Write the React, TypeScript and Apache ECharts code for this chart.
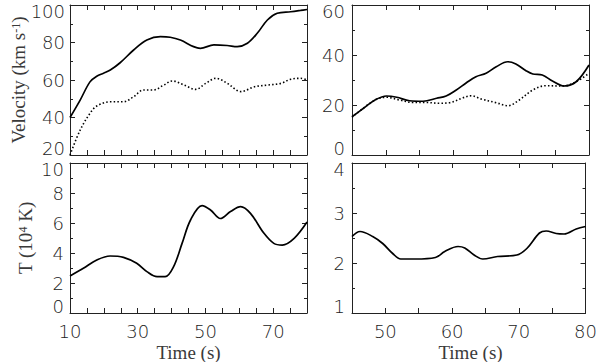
import React, { useEffect, useRef } from "react";
import * as echarts from "echarts";

// ---- data ----
const tlSolidTime = [10, 13, 15.9, 17.9, 19.9, 21.9, 24.8, 28.8, 32.7, 36.7, 39.6, 42.6, 46.5, 48.5, 52.5, 56.4, 59.4, 62.4, 65.3, 68.3, 71.2, 75.2, 78.1, 80];
const tlSolidVel = [40, 49.3, 59, 62, 63.6, 65.3, 69.2, 76, 81.3, 83.1, 82.8, 81.3, 77.8, 76.9, 78.7, 78.4, 77.8, 79.6, 84.9, 92, 95.6, 96.4, 97.1, 97.6];
const tlDotTime = [10, 13, 15.9, 17.9, 21.9, 25.8, 28.8, 31.7, 34.7, 37.7, 40.2, 43.7, 47.1, 50.1, 53.1, 56.5, 60.5, 64.5, 68.4, 72.3, 75.2, 78.1, 80];
const tlDotVel = [20, 33.3, 42.2, 46.1, 48.4, 48.4, 51.1, 54.7, 54.7, 57.3, 59.5, 57.3, 55, 58.2, 60.9, 58.2, 53.8, 56.4, 57.3, 58.2, 60.4, 60.9, 60];

const trSolidTime = [45, 46.7, 48.4, 50.1, 51.6, 53.5, 55.5, 57.5, 58.9, 60.4, 61.9, 63.3, 64.8, 66.3, 68, 69.2, 70.7, 71.7, 73.1, 74.6, 76.3, 78.1, 80];
const trSolidVel = [15.3, 18.7, 22, 23.6, 23.1, 21.7, 21.5, 22.7, 23.6, 26, 28.9, 31.3, 32.7, 35.3, 37.3, 36.4, 33.7, 32.4, 32, 29.6, 27.6, 29.3, 36];
const trDotTime = [45, 48.4, 50.1, 52, 54, 55.9, 57.9, 59.4, 61.4, 62.6, 64.1, 66.3, 68, 69.7, 71.7, 73.6, 76.1, 78.1, 80];
const trDotVel = [15.1, 22, 23.1, 22, 21, 21, 20.7, 20.9, 22.9, 23.7, 22.4, 20.9, 19.7, 22, 26, 27.7, 27.6, 29.3, 32.7];

const blTime = [10, 13.95, 17.9, 21.85, 25.8, 29.7, 32.7, 35.7, 38.1, 40.6, 43.1, 45.6, 49, 51.5, 54.4, 57.4, 60.4, 63.3, 67.3, 70.2, 72.7, 76.2, 80];
const blTemp = [2.47, 2.98, 3.53, 3.8, 3.71, 3.31, 2.76, 2.42, 2.42, 3.09, 4.64, 6.2, 7.16, 6.87, 6.3, 6.76, 7.09, 6.64, 5.31, 4.64, 4.53, 4.98, 6.07];

const brTime = [45, 46.2, 48.1, 49.6, 51.1, 52.3, 54.5, 57.5, 58.9, 60.9, 61.9, 63.3, 64.6, 66.8, 69.7, 71.2, 73.1, 74.1, 75.6, 76.8, 78.6, 80];
const brTemp = [2.53, 2.63, 2.53, 2.39, 2.19, 2.08, 2.08, 2.11, 2.23, 2.33, 2.3, 2.16, 2.08, 2.13, 2.16, 2.29, 2.6, 2.64, 2.59, 2.58, 2.68, 2.73];

const leftTimeLabels = [10, 30, 50, 70];
const rightTimeLabels = [50, 60, 70, 80];

const pairs = (t: number[], v: number[]) => t.map((x, i) => [x, v[i]]);

const AX = "#222";
const labelStyle = { fontFamily: "DejaVu Sans", fontWeight: 200, fontSize: 18, color: "#222", lineHeight: 13 };

function xAxes(grid: number, min: number, max: number, interval: number, minorSplit: number, labels: number[] | null) {
  const common = {
    type: "value", gridIndex: grid, min, max, interval,
    axisLine: { show: true, onZero: false, lineStyle: { color: AX, width: 1 } },
    axisTick: { show: true, inside: true, length: 5, lineStyle: { color: AX, width: 1 } },
    minorTick: { show: minorSplit > 1, splitNumber: minorSplit, length: 5, lineStyle: { color: AX, width: 1 } },
    splitLine: { show: false }, minorSplitLine: { show: false },
  };
  return [
    {
      ...common, position: "bottom",
      axisLabel: labels
        ? { show: true, margin: 12, ...labelStyle, formatter: (v: number) => (labels.includes(v) ? String(v) : "") }
        : { show: false },
    },
    { ...common, position: "top", axisLabel: { show: false } },
  ];
}

function yAxes(grid: number, min: number, max: number, interval: number, minorSplit: number, margin: number) {
  const common = {
    type: "value", gridIndex: grid, min, max, interval,
    axisLine: { show: true, onZero: false, lineStyle: { color: AX, width: 1 } },
    axisTick: { show: true, inside: true, length: 5, lineStyle: { color: AX, width: 1 } },
    minorTick: { show: minorSplit > 1, splitNumber: minorSplit, length: 3, lineStyle: { color: AX, width: 1 } },
    splitLine: { show: false }, minorSplitLine: { show: false },
  };
  return [
    {
      ...common, position: "left",
      axisLabel: { show: true, margin, ...labelStyle, verticalAlignMinLabel: "bottom", verticalAlignMaxLabel: "top" },
    },
    { ...common, position: "right", axisLabel: { show: false } },
  ];
}

function line(grid: number, data: number[][], dotted: boolean) {
  return {
    type: "line", xAxisIndex: grid * 2, yAxisIndex: grid * 2, data,
    showSymbol: false, symbol: "none", smooth: 0.35, silent: true,
    lineStyle: dotted ? { color: "#000", width: 1.6, type: [1.5, 2.2] } : { color: "#000", width: 1.7 },
  };
}

const serif = "Liberation Serif";
const TITLE_COLOR = "#3a3a3a";
const titleRich = {
  a: { fontFamily: serif, fontSize: 19, fontWeight: "normal", lineHeight: 16, fill: TITLE_COLOR },
  b: { fontFamily: serif, fontSize: 12, fontWeight: "normal", lineHeight: 10, fill: TITLE_COLOR, verticalAlign: "top" },
};

function title(x: number, y: number, text: string, rotated: boolean) {
  return {
    type: "text", x, y, rotation: rotated ? Math.PI / 2 : 0, silent: true,
    style: {
      text, rich: titleRich, fontFamily: serif, fontSize: 19, fontWeight: "normal", fill: TITLE_COLOR,
      align: "center", verticalAlign: "middle",
    },
  };
}

export default function App() {
  const ref = useRef<HTMLDivElement>(null);
  useEffect(() => {
    const chart = echarts.init(ref.current!, null, { renderer: "svg" });
    const option = {
      animation: false,
      backgroundColor: "#fff",
      grid: [
        { left: 70, top: 5, width: 237, height: 150 },
        { left: 352, top: 5, width: 237, height: 150 },
        { left: 70, top: 163, width: 237, height: 150 },
        { left: 352, top: 163, width: 237, height: 150 },
      ],
      xAxis: [
        ...xAxes(0, 10, 80, 10, 2, null),
        ...xAxes(1, 45, 80, 5, 1, null),
        ...xAxes(2, 10, 80, 10, 2, leftTimeLabels),
        ...xAxes(3, 45, 80, 5, 1, rightTimeLabels),
      ],
      yAxis: [
        ...yAxes(0, 20, 100, 20, 2, 5),
        ...yAxes(1, 0, 60, 20, 2, 7),
        ...yAxes(2, 0, 10, 2, 2, 6),
        ...yAxes(3, 1, 4, 1, 2, 7),
      ],
      series: [
        line(0, pairs(tlSolidTime, tlSolidVel), false),
        line(0, pairs(tlDotTime, tlDotVel), true),
        line(1, pairs(trSolidTime, trSolidVel), false),
        line(1, pairs(trDotTime, trDotVel), true),
        line(2, pairs(blTime, blTemp), false),
        line(3, pairs(brTime, brTemp), false),
      ],
      graphic: [
        title(18, 80, "{a|Velocity (km s}{b|-1}{a|)}", true),
        title(25, 238, "{a|T (10}{b|4}{a| K)}", true),
        title(188.5, 352, "{a|Time (s)}", false),
        title(470.5, 352, "{a|Time (s)}", false),
      ],
    };
    chart.setOption(option as any);
    return () => chart.dispose();
  }, []);
  return (
    <div
      ref={ref}
      style={{ position: "fixed", left: 0, top: 0, width: 600, height: 362, background: "#fff" }}
    />
  );
}
